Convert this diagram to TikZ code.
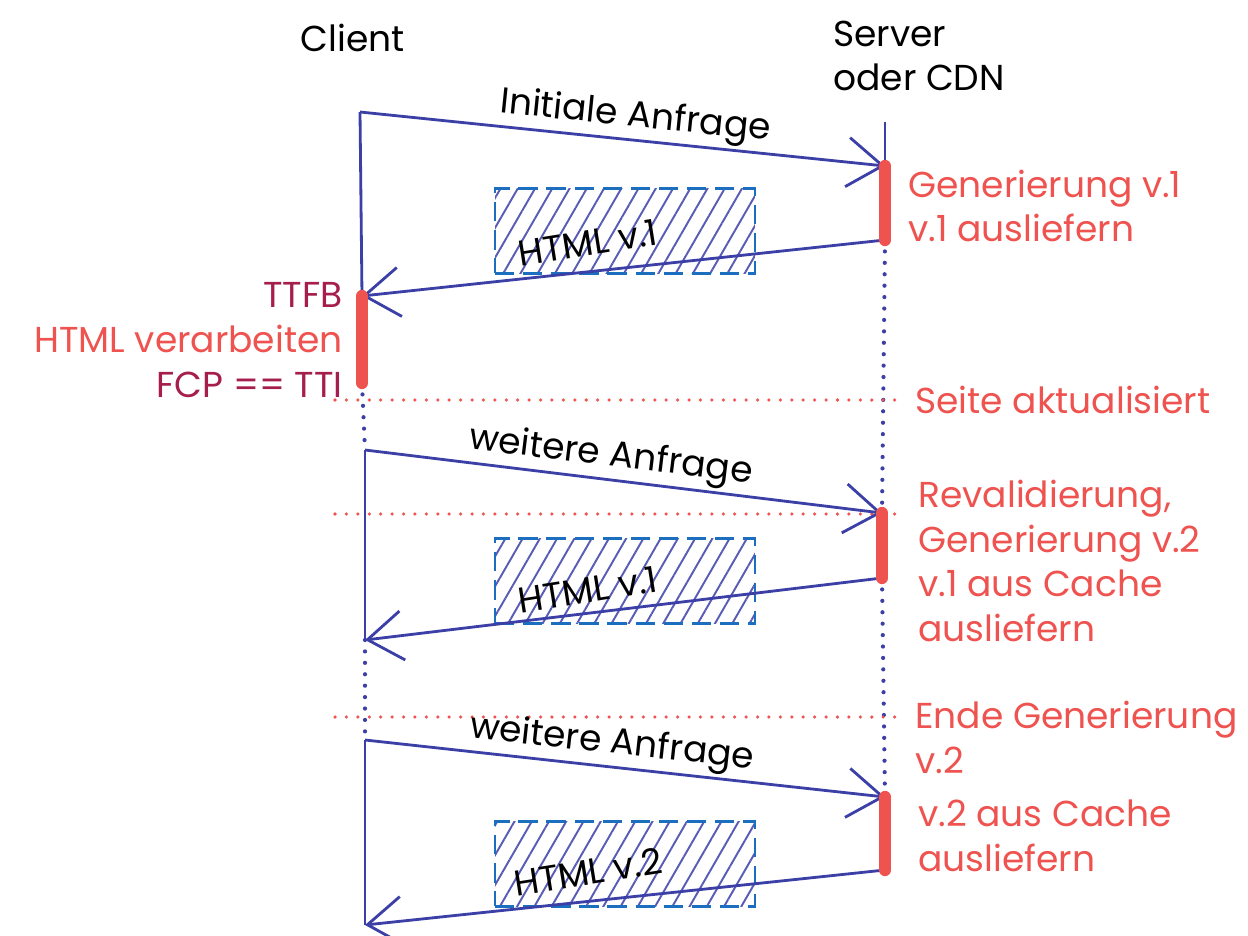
\documentclass[tikz,border=0pt]{standalone}
\usepackage{fontspec}
\setmainfont{Poppins}
\usetikzlibrary{arrows.meta,patterns.meta,positioning}
\definecolor{ink}{HTML}{3B3FA6}
\definecolor{alarm}{HTML}{EE5350}
\definecolor{berry}{HTML}{A61E4D}
\definecolor{hatch}{HTML}{1C6FBF}

\begin{document}
\begin{tikzpicture}[x=0.02cm, y=-0.02cm,
    msg/.style={draw=ink, line width=1.6pt, -{Straight Barb[length=20pt, width=28pt, line width=1.6pt]}},
    life/.style={draw=ink, line width=1.6pt},
    idle/.style={draw=ink, line width=2.4pt, line cap=round, dash pattern=on 0pt off 6.5pt},
    event/.style={draw=alarm, line width=2pt, line cap=round, dash pattern=on 0pt off 6.5pt},
    busy/.style={draw=alarm, line width=7pt, line cap=round},
    hand/.style={font=\fontsize{20.5}{25.5}\selectfont},
    note/.style={hand, text=alarm, align=left, anchor=west, inner sep=0pt},
    say/.style={hand, sloped, above, inner sep=1.5pt},
    payload/.style={draw=hatch, line width=1.6pt, dash pattern=on 11pt off 5pt, minimum width=5.2cm, minimum height=1.7cm, pattern={Lines[angle=60, distance=8.5pt, line width=1.1pt]}, pattern color=ink!85}]
  \useasboundingbox (0,0) rectangle (1248,936);

  \node [hand] (client) at (353,38) {Client};
  \node [hand, align=left, anchor=west, inner sep=0pt] (server) at (833,56) {Server\\oder CDN};

  \coordinate (c0) at (360,112);  \coordinate (s0) at (885,122);
  \coordinate (s1) at (885,166);  \coordinate (s2) at (885,240);
  \coordinate (c1) at (362,296);  \coordinate (c2) at (362,383);
  \coordinate (c3) at (365,450);  \coordinate (s3) at (882,513);
  \coordinate (s4) at (882,578);  \coordinate (c4) at (365,640);
  \coordinate (c5) at (365,740);  \coordinate (s5) at (885,797);
  \coordinate (s6) at (885,870);  \coordinate (c6) at (365,925);

  \draw [idle] (c2) -- (c3) (c4) -- (c5);
  \draw [idle] (s2) -- (s3) (s4) -- (s5);
  \draw [life] (s0) -- (s1);

  \node [payload] (html1) at (625,231) {};
  \node [payload] (html2) at (625,581) {};
  \node [payload] (html3) at (625,864) {};
  \node [hand, rotate=9] at (588,243) {HTML v.1};
  \node [hand, rotate=9] at (588,590) {HTML v.1};
  \node [hand, rotate=9] at (588,872) {HTML v.2};

  \draw [event] (335,400) coordinate (e1) -- (898,400) coordinate (f1);
  \draw [event] (335,514) coordinate (e2) -- (900,514) coordinate (f2);
  \draw [event] (335,717) coordinate (e3) -- (900,717) coordinate (f3);

  \draw [life] (c0) -- (c1);
  \draw [life] (c3) -- (c4);
  \draw [life] (c5) -- (c6);
  \draw [msg] (c0) -- node [say, pos=0.52] {Initiale Anfrage} (s1);
  \draw [msg] (s2) -- (c1);
  \draw [msg] (c3) -- node [say, pos=0.47] {weitere Anfrage} (s3);
  \draw [msg] (s4) -- (c4);
  \draw [msg] (c5) -- node [say, pos=0.47] {weitere Anfrage} (s5);
  \draw [msg] (s6) -- (c6);

  \draw [busy] (s1) -- (s2);
  \draw [busy] (c1) -- (c2);
  \draw [busy] (s3) -- (s4);
  \draw [busy] (s5) -- (s6);

  \node [note, align=right, anchor=east] (ttfb) at (343,340) {\textcolor{berry}{TTFB}\\HTML verarbeiten\\\textcolor{berry}{FCP == TTI}};
  \node [note] (gen1) at (908,206) {Generierung v.1\\v.1 ausliefern};
  \node [note] (upd) at (915,400) {Seite aktualisiert};
  \node [note] (reval) at (918,561) {Revalidierung,\\Generierung v.2\\v.1 aus Cache\\ausliefern};
  \node [note] (done) at (915,737) {Ende Generierung\\v.2};
  \node [note] (gen2) at (918,836) {v.2 aus Cache\\ausliefern};
\end{tikzpicture}
\end{document}
